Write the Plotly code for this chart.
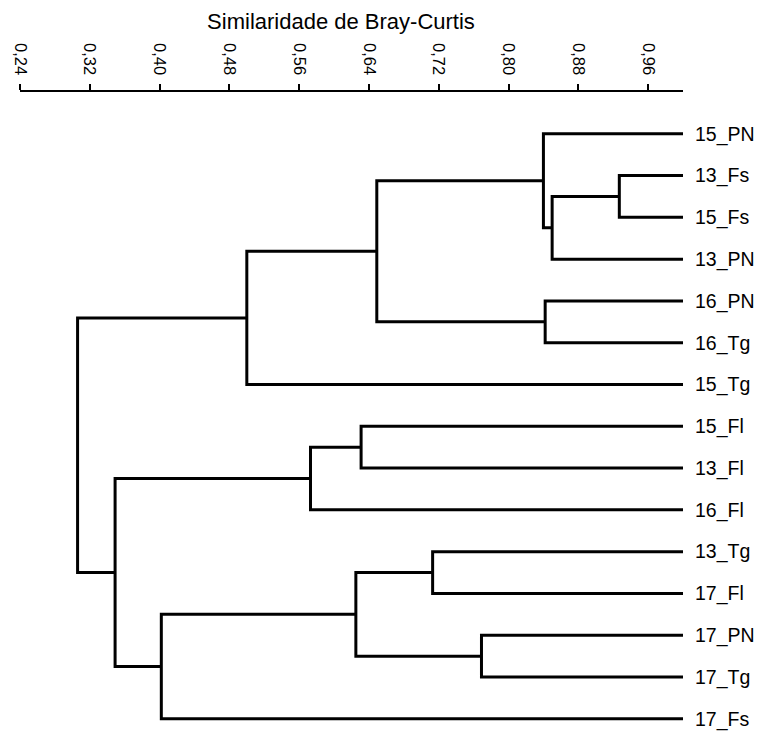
import plotly.graph_objects as go

# Leaves, top to bottom
leaf_labels = ["15_PN", "13_Fs", "15_Fs", "13_PN", "16_PN", "16_Tg", "15_Tg",
               "15_Fl", "13_Fl", "16_Fl", "13_Tg", "17_Fl", "17_PN", "17_Tg", "17_Fs"]

# Merges (Bray-Curtis similarity at which two clusters join)
merge_names = ["A", "B", "C", "D", "E", "F", "G", "H", "I", "J", "K", "L", "M", "N"]
merge_left = ["13_Fs", "A", "15_PN", "16_PN", "C", "E", "15_Fl", "G", "13_Tg", "17_PN", "I", "K", "H", "F"]
merge_right = ["15_Fs", "13_PN", "B", "16_Tg", "D", "15_Tg", "13_Fl", "16_Fl", "17_Fl", "17_Tg", "J", "17_Fs", "L", "M"]
merge_sim = [0.927, 0.850, 0.840, 0.842, 0.649, 0.500, 0.631, 0.573, 0.713, 0.769, 0.625, 0.402, 0.349, 0.306]

tick_values = [0.24, 0.32, 0.40, 0.48, 0.56, 0.64, 0.72, 0.80, 0.88, 0.96]
tick_text = ["0,24", "0,32", "0,40", "0,48", "0,56", "0,64", "0,72", "0,80", "0,88", "0,96"]

# node positions
pos = {}
for i, lab in enumerate(leaf_labels):
    pos[lab] = (1.0, i)

xs, ys = [], []
for name, a, b, s in zip(merge_names, merge_left, merge_right, merge_sim):
    xa, ya = pos[a]
    xb, yb = pos[b]
    xs += [xa, s, s, xb, None]
    ys += [ya, ya, yb, yb, None]
    pos[name] = (s, (ya + yb) / 2)

fig = go.Figure()
fig.add_trace(go.Scatter(x=xs, y=ys, mode="lines",
                         line=dict(color="black", width=3),
                         hoverinfo="skip", showlegend=False))

font_family = "Liberation Sans, Arial, sans-serif"

fig.update_layout(
    width=758, height=731,
    margin=dict(l=20, r=75, t=92, b=0),
    paper_bgcolor="white", plot_bgcolor="white",
    font=dict(family=font_family, color="black"),
    title=dict(text="Similaridade de Bray-Curtis", x=341 / 758, xanchor="center",
               y=1 - 21 / 731, yanchor="middle", yref="container",
               font=dict(size=22, family=font_family, color="black")),
    xaxis=dict(side="top", range=[0.24, 1.0], showgrid=False, zeroline=False,
               showline=True, linecolor="black", linewidth=2,
               ticks="outside", ticklen=6, tickwidth=2, tickcolor="black",
               tickvals=tick_values, ticktext=tick_text, tickangle=90,
               ticklabelstandoff=3,
               tickfont=dict(size=16.5, family=font_family, color="black")),
    yaxis=dict(side="right", range=[14.22, -1.0], showgrid=False, zeroline=False,
               showline=False, ticks="",
               tickvals=list(range(len(leaf_labels))), ticktext=leaf_labels,
               ticklabelstandoff=11, ticklabeloverflow="allow",
               tickfont=dict(size=19.5, family=font_family, color="black")),
)

fig.write_html("out.html")
